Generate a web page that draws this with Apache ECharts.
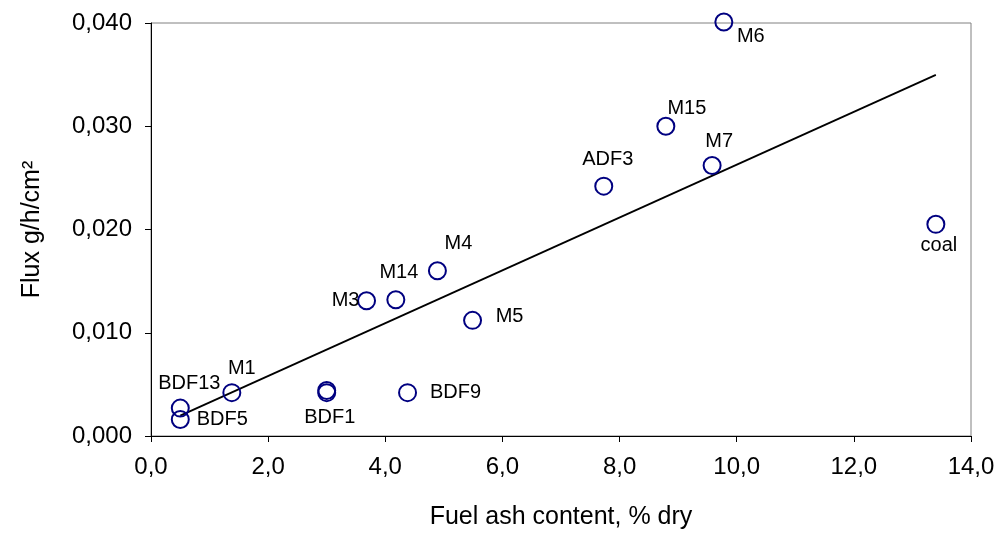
<!DOCTYPE html>
<html>
<head>
<meta charset="utf-8">
<script src="https://cdn.jsdelivr.net/npm/echarts@6/dist/echarts.min.js"></script>
<style>
html,body{margin:0;padding:0;background:#fff;}
#chart{width:1001px;height:537px;}
</style>
</head>
<body>
<div id="chart"></div>
<script>
// ---- data ----
const names = ['BDF13','BDF5','M1','BDF1','','BDF9','M3','M14','M4','M5','ADF3','M15','M7','M6','coal'];
const ashContent = [0.5, 0.5, 1.38, 3.0, 3.0, 4.38, 3.68, 4.18, 4.89, 5.49, 7.73, 8.79, 9.58, 9.78, 13.4];
const flux = [0.0027, 0.0016, 0.0042, 0.0044, 0.0042, 0.0042, 0.0131, 0.0132, 0.0160, 0.0112, 0.0242, 0.0300, 0.0262, 0.0401, 0.0205];
const xTicks = [0, 2, 4, 6, 8, 10, 12, 14];
const yTicks = [0, 0.01, 0.02, 0.03, 0.04];

// ---- label placement (layout, not data) ----
const labelOffsets = {
  'BDF13': [9, -25], 'BDF5': [42, 0], 'M1': [10, -24], 'BDF1': [3, 27],
  'BDF9': [48, 0], 'M3': [-21, 0], 'M14': [3, -27], 'M4': [21, -27],
  'M5': [37, -4], 'ADF3': [4, -27], 'M15': [21, -18], 'M7': [7, -24],
  'M6': [27, 15], 'coal': [3, 21]
};

// least-squares linear trend computed from the data
const n = ashContent.length;
const mx = ashContent.reduce((a, b) => a + b, 0) / n;
const my = flux.reduce((a, b) => a + b, 0) / n;
let sxy = 0, sxx = 0;
for (let i = 0; i < n; i++) { sxy += (ashContent[i] - mx) * (flux[i] - my); sxx += (ashContent[i] - mx) ** 2; }
const slope = sxy / sxx, intercept = my - slope * mx;
const xMin = Math.min(...ashContent), xMax = Math.max(...ashContent);
const trend = [[xMin, intercept + slope * xMin], [xMax, intercept + slope * xMax]];

const FONT = 'Liberation Sans, Arial, sans-serif';
const pts = ashContent.map((x, i) => {
  const nm = names[i];
  const off = labelOffsets[nm];
  return {
    value: [x, flux[i]],
    name: nm,
    label: off ? { show: true, position: 'inside', offset: off, formatter: nm,
      align: 'center', verticalAlign: 'middle', color: '#000000', textBorderWidth: 0,
      fontSize: 20, fontFamily: FONT } : { show: false }
  };
});

const chart = echarts.init(document.getElementById('chart'), null, { renderer: 'canvas' });
chart.setOption({
  animation: false,
  backgroundColor: '#fff',
  grid: { left: 151, right: 30, top: 23, bottom: 101, show: true, borderColor: '#808080', borderWidth: 1, containLabel: false },
  xAxis: {
    type: 'value', min: xTicks[0], max: xTicks[xTicks.length - 1], interval: 2,
    name: 'Fuel ash content, % dry', nameLocation: 'middle', nameGap: 69,
    nameTextStyle: { fontSize: 25, fontFamily: FONT, color: '#000' },
    axisLine: { show: true, lineStyle: { color: '#000', width: 1 } },
    axisTick: { show: true, inside: false, length: 6, lineStyle: { color: '#000' } },
    axisLabel: { fontSize: 24, fontFamily: FONT, color: '#000', margin: 19,
      formatter: v => v.toFixed(1).replace('.', ',') },
    splitLine: { show: false }
  },
  yAxis: {
    type: 'value', min: yTicks[0], max: yTicks[yTicks.length - 1], interval: 0.01,
    name: 'Flux g/h/cm\u00B2', nameLocation: 'middle', nameGap: 106,
    nameTextStyle: { fontSize: 25, fontFamily: FONT, color: '#000' },
    axisLine: { show: true, lineStyle: { color: '#000', width: 1 } },
    axisTick: { show: true, inside: false, length: 6, lineStyle: { color: '#000' } },
    axisLabel: { fontSize: 24, fontFamily: FONT, color: '#000', margin: 19,
      formatter: v => v.toFixed(3).replace('.', ',') },
    splitLine: { show: false }
  },
  series: [
    {
      type: 'line', data: trend, showSymbol: false, symbol: 'none',
      lineStyle: { color: '#000', width: 1.8 }, z: 2, silent: true
    },
    {
      type: 'scatter', data: pts, symbol: 'circle', symbolSize: 17, clip: false,
      itemStyle: { color: 'rgba(255,255,255,0)', borderColor: '#000080', borderWidth: 2, opacity: 1 },
      z: 3
    }
  ]
});
</script>
</body>
</html>
